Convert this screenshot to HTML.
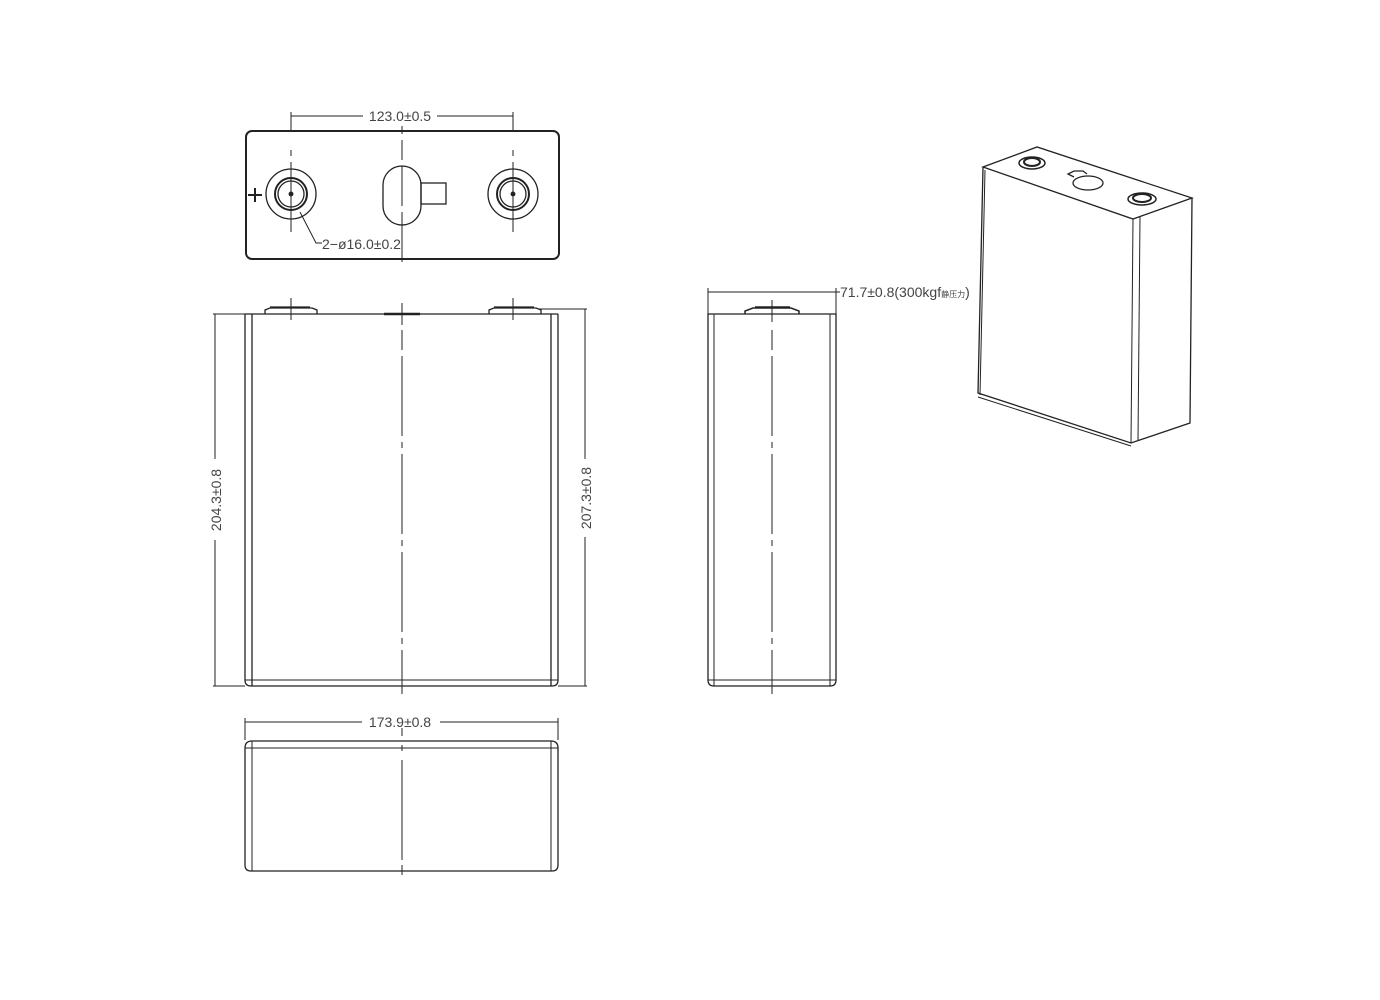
<!DOCTYPE html>
<html><head><style>html,body{margin:0;padding:0;background:#fff}svg{display:block}text{font-family:"Liberation Sans","Noto Sans CJK SC",sans-serif;fill:#444}</style></head>
<body>
<svg width="1380" height="1000" viewBox="0 0 1380 1000" xmlns="http://www.w3.org/2000/svg">
<g fill="none" stroke="#222" stroke-width="1.3">
<!-- top view -->
<rect x="246" y="131" width="313" height="128" rx="6" stroke-width="2"/>
<circle cx="291" cy="194" r="25"/><circle cx="291" cy="194" r="16" stroke-width="2"/><circle cx="291" cy="194" r="13"/>
<circle cx="513" cy="194" r="25"/><circle cx="513" cy="194" r="16" stroke-width="2"/><circle cx="513" cy="194" r="13"/>
<circle cx="291" cy="194" r="1.8" fill="#222"/><circle cx="513" cy="194" r="1.8" fill="#222"/>
<rect x="383" y="166" width="38" height="59" rx="19"/>
<rect x="421" y="183" width="25" height="21"/>
<path d="M248 195h14M255 188v14" stroke-width="2"/>
<path d="M291 112v20M291 150v6M291 162v70M513 112v20M513 150v6M513 162v70M402 126v8M402 140v20M402 166v40M402 212v50" stroke-width="1"/>
<path d="M291 116H363M437 116H513" stroke-width="1"/>
<path d="M300 212L316 243h6" stroke-width="1"/>
<!-- front view -->
<path d="M245 314V680q0 6 6 6h301q6 0 6-6V314"/>
<path d="M252 314V686M551 314V686"/>
<path d="M245 314H558"/>
<path d="M245 680H558" stroke-width="1"/>
<path d="M265 314v-4l5-2h42l5 2v4M270 307h40" />
<path d="M489 314v-4l5-2h42l5 2v4M494 307h40"/>
<path d="M384 314h36" stroke-width="2.5"/>
<path d="M291 298v22M513 298v22M402 303v22M402 330v20M402 356v80M402 442v6M402 454v80M402 540v6M402 552v80M402 638v6M402 650v44" stroke-width="1"/>
<path d="M213 314h32M213 686h32M215 314v145M215 540v146M539 309h48M558 686h29M585 309v150M585 537v149" stroke-width="1"/>
<!-- side view -->
<path d="M708 314V680q0 6 6 6h116q6 0 6-6V314z"/>
<path d="M714 314V686M830 314V686M708 680H836" stroke-width="1"/>
<path d="M745 314v-3l8-3h38l8 3v3M755 307h35" stroke-width="1.5"/>
<path d="M772 300v22M772 330v20M772 356v80M772 442v6M772 454v80M772 540v6M772 552v80M772 638v6M772 650v44" stroke-width="1"/>
<path d="M708 288v26M836 288v26M708 292h132" stroke-width="1"/>
<!-- bottom view -->
<path d="M252 741h299q7 0 7 7v117q0 6-6 6H251q-6 0-6-6V748q0-7 7-7z"/>
<path d="M245 748H558M252 741V871M551 741V871" stroke-width="1"/>
<path d="M245 718v22M558 718v22M245 722h117M440 722h118" stroke-width="1"/>
<path d="M402 728v8M402 745v6M402 760v100M402 865v10" stroke-width="1"/>
<!-- 3D -->
<path d="M983 167L1037 147L1192 198L1133 219Z"/>
<path d="M983 167L978 393L1131 443L1190 423L1192 198"/>
<path d="M1133 219L1131 443M1140 217L1138 441M985 170L980 395" stroke-width="1"/>
<path d="M978 397L1131 446" stroke-width="1"/>
<ellipse cx="1032" cy="163" rx="13" ry="6" stroke-width="1.5"/><ellipse cx="1032" cy="162" rx="8" ry="4" stroke-width="2"/>
<ellipse cx="1142" cy="199" rx="14" ry="6" stroke-width="1.5"/><ellipse cx="1142" cy="198" rx="9" ry="4" stroke-width="2"/>
<ellipse cx="1088" cy="183" rx="15" ry="7"/>
<path d="M1074 177l-6-3 6-3h9l4 3"/>
</g>
<text x="400" y="121" font-size="14" text-anchor="middle">123.0±0.5</text>
<text x="322" y="249" font-size="14">2−ø16.0±0.2</text>
<text x="400" y="727" font-size="14" text-anchor="middle">173.9±0.8</text>
<text x="840" y="297" font-size="14">71.7±0.8(300kgf<tspan font-size="8">静压力</tspan>)</text>
<text transform="translate(221,500) rotate(-90)" font-size="14" text-anchor="middle">204.3±0.8</text>
<text transform="translate(591,498) rotate(-90)" font-size="14" text-anchor="middle">207.3±0.8</text>
</svg>
</body></html>
